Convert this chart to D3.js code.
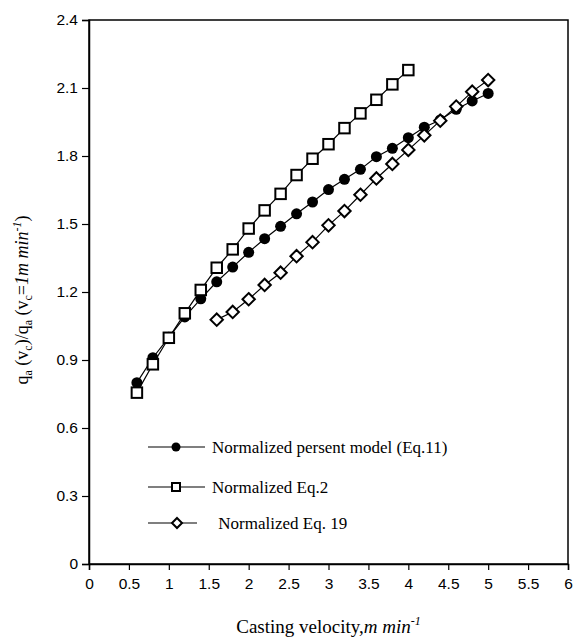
<!DOCTYPE html>
<html><head><meta charset="utf-8">
<script src="https://cdn.jsdelivr.net/npm/d3@7"></script>
<style>body{margin:0;background:#fff}</style>
</head><body><svg id="c" width="573" height="639"></svg>
<script>
const xTicks = [0,0.5,1,1.5,2,2.5,3,3.5,4,4.5,5,5.5,6];
const yTicks = [0,0.3,0.6,0.9,1.2,1.5,1.8,2.1,2.4];
const xTickLabels = ["0","0.5","1","1.5","2","2.5","3","3.5","4","4.5","5","5.5","6"];
const yTickLabels = ["0","0.3","0.6","0.9","1.2","1.5","1.8","2.1","2.4"];

const vModel = [0.6,0.8,1.0,1.2,1.4,1.6,1.8,2.0,2.2,2.4,2.6,2.8,3.0,3.2,3.4,3.6,3.8,4.0,4.2,4.4,4.6,4.8,5.0];
const qModel = [0.80,0.91,1.00,1.09,1.17,1.245,1.31,1.375,1.435,1.49,1.545,1.597,1.652,1.697,1.741,1.797,1.834,1.881,1.927,1.959,2.006,2.043,2.076];

const vEq2 = [0.6,0.8,1.0,1.2,1.4,1.6,1.8,2.0,2.2,2.4,2.6,2.8,3.0,3.2,3.4,3.6,3.8,4.0];
const qEq2 = [0.756,0.881,0.998,1.106,1.209,1.307,1.388,1.48,1.56,1.633,1.716,1.788,1.852,1.923,1.988,2.048,2.116,2.179];

const vEq19 = [1.6,1.8,2.0,2.2,2.4,2.6,2.8,3.0,3.2,3.4,3.6,3.8,4.0,4.2,4.4,4.6,4.8,5.0];
const qEq19 = [1.078,1.112,1.168,1.231,1.285,1.358,1.42,1.494,1.557,1.629,1.701,1.765,1.827,1.891,1.956,2.018,2.084,2.135];

const legendLabels = ["Normalized persent model (Eq.11)","Normalized Eq.2"," Normalized Eq. 19"];

const svg = d3.select("#c");
const L=89, R=568, T=20, B=564;
const x = d3.scaleLinear().domain([0,6]).range([L,R]);
const y = d3.scaleLinear().domain([0,2.4]).range([B,T]);

svg.append("rect").attr("x",L).attr("y",T).attr("width",R-L).attr("height",B-T)
  .attr("fill","none").attr("stroke","#000").attr("stroke-width",1.5);

const xAxis = svg.append("g").attr("transform",`translate(0,${B})`)
  .call(d3.axisBottom(x).tickValues(xTicks).tickFormat((d,i)=>xTickLabels[i]).tickSize(6).tickPadding(8));
const yAxis = svg.append("g").attr("transform",`translate(${L},0)`)
  .call(d3.axisLeft(y).tickValues(yTicks).tickFormat((d,i)=>yTickLabels[i]).tickSize(7).tickPadding(4));
[xAxis,yAxis].forEach(a=>{
  a.select(".domain").attr("stroke-width",1.5);
  a.selectAll("line").attr("stroke-width",1.2);
  a.selectAll("text").attr("font-family","Liberation Sans, Arial, sans-serif").attr("font-size",15.5).attr("fill","#000");
});

const line = d3.line().x(d=>x(d[0])).y(d=>y(d[1]));
function series(vs,qs){ return vs.map((v,i)=>[v,qs[i]]); }
const dModel = series(vModel,qModel), dEq2 = series(vEq2,qEq2), dEq19 = series(vEq19,qEq19);

function circle(g,cx,cy,r){ g.append("circle").attr("cx",cx).attr("cy",cy).attr("r",r).attr("fill","#000"); }
function square(g,cx,cy,s){ g.append("rect").attr("x",cx-s/2).attr("y",cy-s/2).attr("width",s).attr("height",s)
  .attr("fill","#fff").attr("stroke","#000").attr("stroke-width",2); }
function diamond(g,cx,cy,s){ g.append("path").attr("d",`M${cx},${cy-s}L${cx+s},${cy}L${cx},${cy+s}L${cx-s},${cy}Z`)
  .attr("fill","#fff").attr("stroke","#000").attr("stroke-width",2); }

const gModel = svg.append("g"), gEq2 = svg.append("g"), gEq19 = svg.append("g");
gModel.append("path").datum(dModel).attr("d",line).attr("fill","none").attr("stroke","#000").attr("stroke-width",1.2);
dModel.forEach(d=>circle(gModel,x(d[0]),y(d[1]),5.5));
gEq2.append("path").datum(dEq2).attr("d",line).attr("fill","none").attr("stroke","#000").attr("stroke-width",1.2);
dEq2.forEach(d=>square(gEq2,x(d[0]),y(d[1]),10.5));
gEq19.append("path").datum(dEq19).attr("d",line).attr("fill","none").attr("stroke","#000").attr("stroke-width",1.2);
dEq19.forEach(d=>diamond(gEq19,x(d[0]),y(d[1]),6.2));

const lg = svg.append("g");
const legY = [447,487,523];
const legX1 = [148,148,148], legX2=[205,205,197], legM=[176,176,177], legT=[212,212,214];
legY.forEach((ly,i)=>{
  lg.append("line").attr("x1",legX1[i]).attr("x2",legX2[i]).attr("y1",ly).attr("y2",ly).attr("stroke","#000").attr("stroke-width",1.2);
  if(i===0) circle(lg,legM[i],ly,4.5);
  if(i===1) square(lg,legM[i],ly,8);
  if(i===2) diamond(lg,legM[i],ly,5);
  lg.append("text").attr("x",legT[i]).attr("y",ly+5.5).attr("font-family","Liberation Serif, Times New Roman, serif")
    .attr("font-size",17).attr("xml:space","preserve").style("white-space","pre").text(legendLabels[i]);
});

const xt = svg.append("text").attr("x",(L+R)/2).attr("y",633).attr("text-anchor","middle")
  .attr("font-family","Liberation Serif, Times New Roman, serif").attr("font-size",19);
xt.append("tspan").text("Casting velocity,");
xt.append("tspan").attr("font-style","italic").text("m min");
xt.append("tspan").attr("font-style","italic").attr("font-size",12).attr("dy",-8).text("-1");

const yt = svg.append("text").attr("transform",`translate(28,${(T+B)/2+8}) rotate(-90)`).attr("text-anchor","middle")
  .attr("font-family","Liberation Serif, Times New Roman, serif").attr("font-size",18);
yt.append("tspan").text("q");
yt.append("tspan").attr("font-size",12).attr("dy",4).text("a");
yt.append("tspan").attr("dy",-4).text(" (v");
yt.append("tspan").attr("font-size",12).attr("dy",4).text("c");
yt.append("tspan").attr("dy",-4).text(")/q");
yt.append("tspan").attr("font-size",12).attr("dy",4).text("a");
yt.append("tspan").attr("dy",-4).text(" (v");
yt.append("tspan").attr("font-size",12).attr("dy",4).text("c");
yt.append("tspan").attr("dy",-4).text("=");
yt.append("tspan").attr("font-style","italic").text("1m min");
yt.append("tspan").attr("font-style","italic").attr("font-size",12).attr("dy",-7).text("-1");
yt.append("tspan").attr("dy",7).text(")");
</script></body></html>
